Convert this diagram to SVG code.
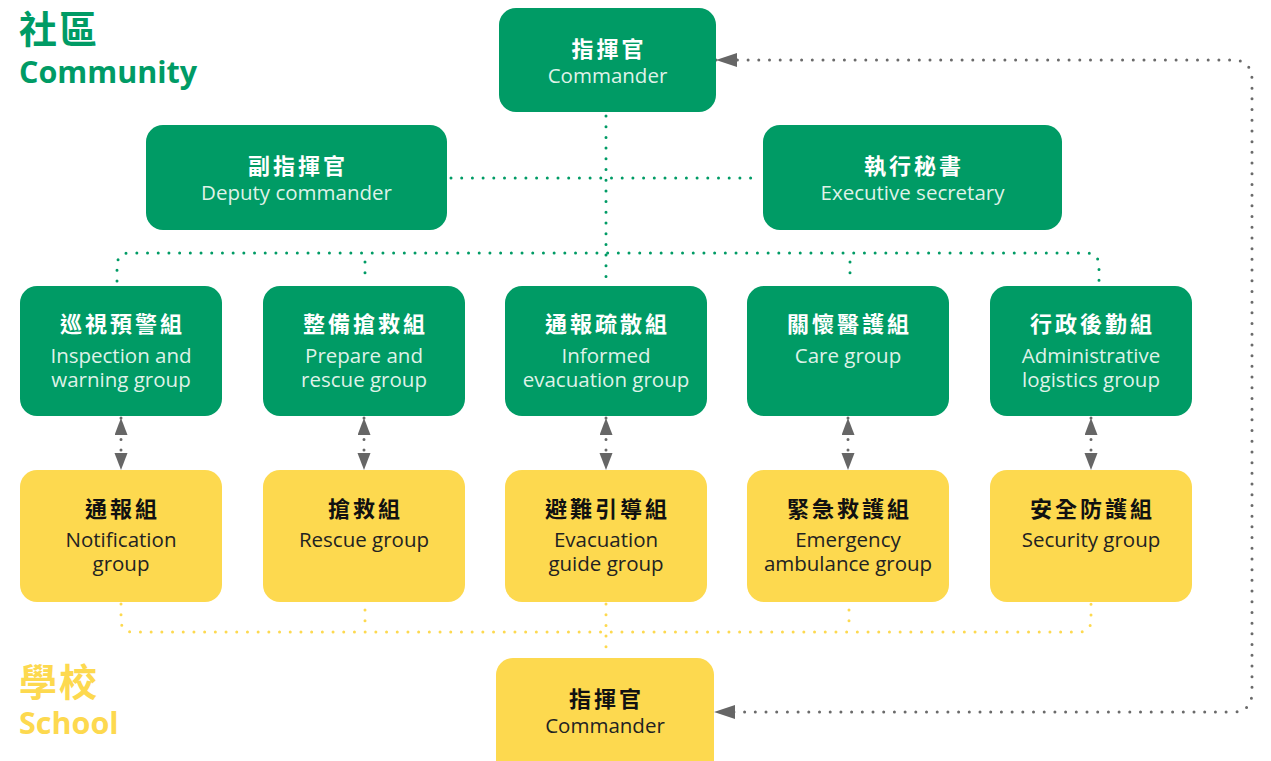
<svg xmlns="http://www.w3.org/2000/svg" width="1271" height="761" viewBox="0 0 1271 761">
<style>
.g{fill:#009B65}
.y{fill:#FDD94F}
.zh{font-family:"Noto Sans CJK TC","Noto Sans CJK SC",sans-serif;font-weight:700;font-size:22px;letter-spacing:3px;text-anchor:middle}
.en{font-family:"Open Sans","Noto Sans",sans-serif;font-weight:400;font-size:20.5px;text-anchor:middle}
.gz{fill:#ffffff}
.ge{fill:#dff2e8}
.yz{fill:#111111}
.ye{fill:#222222}
.dg{fill:none;stroke:#009B65;stroke-width:3;stroke-linecap:round;stroke-dasharray:0 10.7}
.dy{fill:none;stroke:#FDD94F;stroke-width:3;stroke-linecap:round;stroke-dasharray:0 10.7}
.dk{fill:none;stroke:#6a6a6a;stroke-width:3;stroke-linecap:round;stroke-dasharray:0 10.7}
.t1{font-family:"Noto Sans CJK TC",sans-serif;font-weight:700;font-size:38px;letter-spacing:2px}
.t2{font-family:"Open Sans",sans-serif;font-weight:700;font-size:30.5px}
</style>
<defs>
<marker id="ah" markerUnits="userSpaceOnUse" markerWidth="22" markerHeight="16" refX="21" refY="7" orient="auto-start-reverse">
<path d="M0,0 L21,7 L0,14 Z" fill="#666666"/>
</marker>
<marker id="av" markerUnits="userSpaceOnUse" markerWidth="18" markerHeight="14" refX="17" refY="6.5" orient="auto-start-reverse">
<path d="M0,0 L17,6.5 L0,13 Z" fill="#666666"/>
</marker>
</defs>
<rect width="1271" height="761" fill="#ffffff"/>

<g id="titles">
<text x="19" y="43" class="t1" fill="#009B65">社區</text>
<text x="19" y="83" class="t2" fill="#009B65">Community</text>
<text x="19" y="696" class="t1" fill="#FDD94F">學校</text>
<text x="19" y="734" class="t2" fill="#FDD94F">School</text>
</g>

<g id="connectors">
<line class="dg" x1="606" y1="116" x2="606" y2="282"/>
<line class="dg" x1="451" y1="178" x2="760" y2="178"/>
<path class="dg" d="M117,281 V266 Q117,253 130,253 H1086 Q1099,253 1099,266 V281"/>
<line class="dg" x1="365" y1="262" x2="365" y2="279"/>
<line class="dg" x1="850" y1="262" x2="850" y2="279"/>
<path class="dy" d="M121,604 V620 Q121,632 133,632 H1079 Q1091,632 1091,620 V604"/>
<line class="dy" x1="606" y1="604" x2="606" y2="656"/>
<line class="dy" x1="365" y1="610" x2="365" y2="622"/>
<line class="dy" x1="849" y1="610" x2="849" y2="622"/>
<path class="dk" d="M716,60 H1232 Q1252,60 1252,80 V692 Q1252,712 1232,712 H714" marker-start="url(#ah)" marker-end="url(#ah)"/>
<line class="dk" x1="121" y1="418" x2="121" y2="470" marker-start="url(#av)" marker-end="url(#av)"/>
<line class="dk" x1="364" y1="418" x2="364" y2="470" marker-start="url(#av)" marker-end="url(#av)"/>
<line class="dk" x1="606" y1="418" x2="606" y2="470" marker-start="url(#av)" marker-end="url(#av)"/>
<line class="dk" x1="848" y1="418" x2="848" y2="470" marker-start="url(#av)" marker-end="url(#av)"/>
<line class="dk" x1="1091" y1="418" x2="1091" y2="470" marker-start="url(#av)" marker-end="url(#av)"/>
</g>

<g id="commander">
<rect class="g" x="499" y="8" width="217" height="104" rx="17"/>
<text class="zh gz" x="609" y="57">指揮官</text>
<text class="en ge" x="607.5" y="83">Commander</text>
</g>
<g id="deputy">
<rect class="g" x="146" y="125" width="301" height="105" rx="17"/>
<text class="zh gz" x="298" y="174">副指揮官</text>
<text class="en ge" x="296.5" y="200">Deputy commander</text>
</g>
<g id="secretary">
<rect class="g" x="763" y="125" width="299" height="105" rx="17"/>
<text class="zh gz" x="914" y="174">執行秘書</text>
<text class="en ge" x="912.5" y="200">Executive secretary</text>
</g>

<g id="inspection">
<rect class="g" x="20" y="286" width="202" height="130" rx="17"/>
<text class="zh gz" x="122.5" y="332">巡視預警組</text>
<text class="en ge" y="363"><tspan x="121">Inspection and</tspan><tspan x="121" dy="24">warning group</tspan></text>
</g>
<g id="prepare">
<rect class="g" x="263" y="286" width="202" height="130" rx="17"/>
<text class="zh gz" x="365.5" y="332">整備搶救組</text>
<text class="en ge" y="363"><tspan x="364">Prepare and</tspan><tspan x="364" dy="24">rescue group</tspan></text>
</g>
<g id="informed">
<rect class="g" x="505" y="286" width="202" height="130" rx="17"/>
<text class="zh gz" x="607.5" y="332">通報疏散組</text>
<text class="en ge" y="363"><tspan x="606">Informed</tspan><tspan x="606" dy="24">evacuation group</tspan></text>
</g>
<g id="care">
<rect class="g" x="747" y="286" width="202" height="130" rx="17"/>
<text class="zh gz" x="849.5" y="332">關懷醫護組</text>
<text class="en ge" x="848" y="363">Care group</text>
</g>
<g id="admin">
<rect class="g" x="990" y="286" width="202" height="130" rx="17"/>
<text class="zh gz" x="1092.5" y="332">行政後勤組</text>
<text class="en ge" y="363"><tspan x="1091">Administrative</tspan><tspan x="1091" dy="24">logistics group</tspan></text>
</g>

<g id="notification">
<rect class="y" x="20" y="470" width="202" height="132" rx="17"/>
<text class="zh yz" x="122.5" y="517">通報組</text>
<text class="en ye" y="547"><tspan x="121">Notification</tspan><tspan x="121" dy="24">group</tspan></text>
</g>
<g id="rescue">
<rect class="y" x="263" y="470" width="202" height="132" rx="17"/>
<text class="zh yz" x="365.5" y="517">搶救組</text>
<text class="en ye" x="364" y="547">Rescue group</text>
</g>
<g id="evacuation">
<rect class="y" x="505" y="470" width="202" height="132" rx="17"/>
<text class="zh yz" x="607.5" y="517">避難引導組</text>
<text class="en ye" y="547"><tspan x="606">Evacuation</tspan><tspan x="606" dy="24">guide group</tspan></text>
</g>
<g id="emergency">
<rect class="y" x="747" y="470" width="202" height="132" rx="17"/>
<text class="zh yz" x="849.5" y="517">緊急救護組</text>
<text class="en ye" y="547"><tspan x="848">Emergency</tspan><tspan x="848" dy="24">ambulance group</tspan></text>
</g>
<g id="security">
<rect class="y" x="990" y="470" width="202" height="132" rx="17"/>
<text class="zh yz" x="1092.5" y="517">安全防護組</text>
<text class="en ye" x="1091" y="547">Security group</text>
</g>

<g id="school-commander">
<rect class="y" x="496" y="658" width="218" height="120" rx="17"/>
<text class="zh yz" x="606.5" y="707">指揮官</text>
<text class="en ye" x="605" y="733">Commander</text>
</g>
</svg>
